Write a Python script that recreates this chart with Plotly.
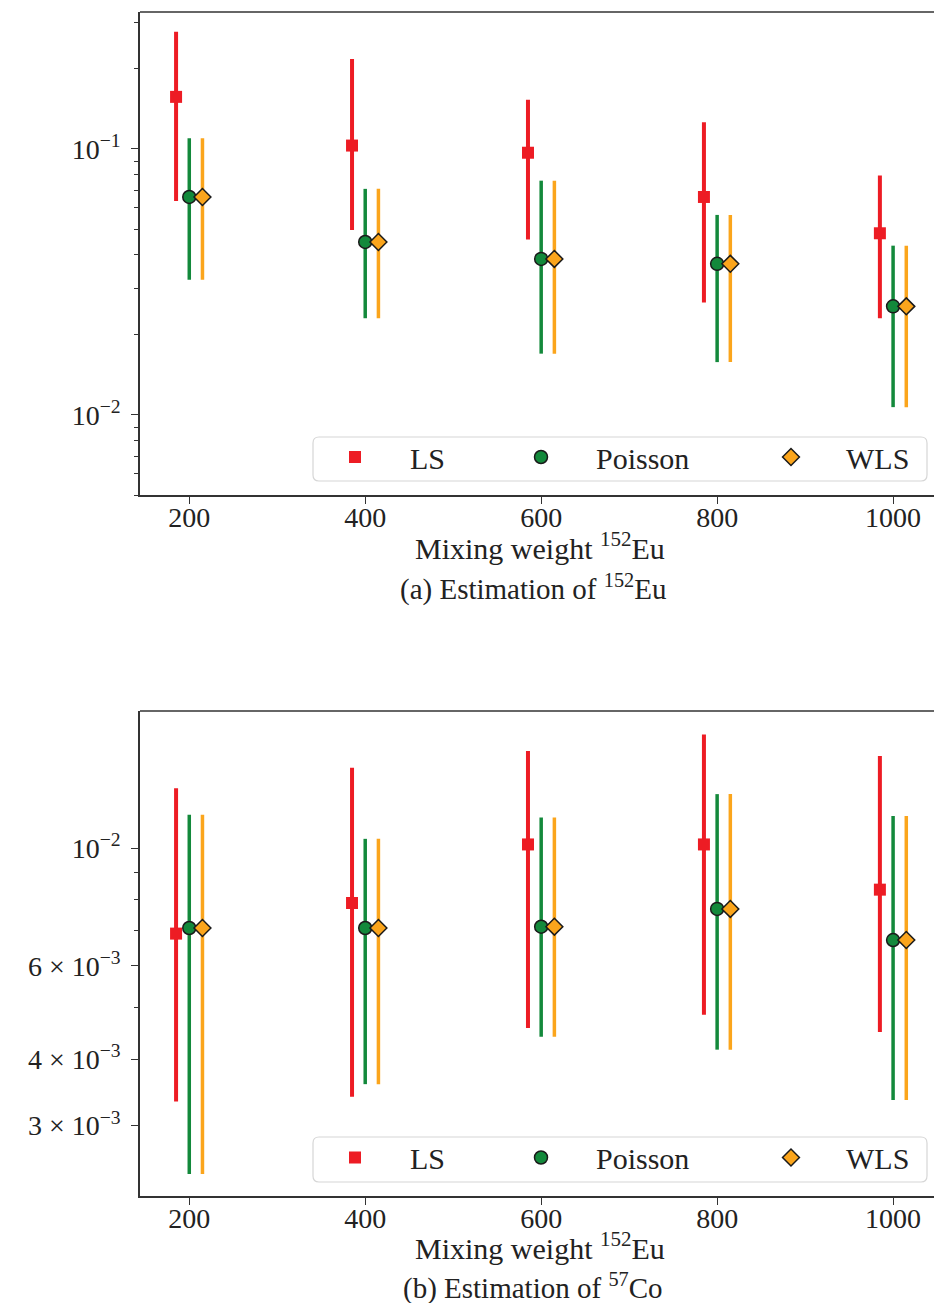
import plotly.graph_objects as go

# ---------------- data ----------------
weights = [200, 400, 600, 800, 1000]
x_ticks = [200, 400, 600, 800, 1000]

# (a) Estimation of 152Eu
eu_ls = [0.157, 0.103, 0.0968, 0.066, 0.0482]
eu_ls_hi = [0.276, 0.218, 0.153, 0.126, 0.0794]
eu_ls_lo = [0.0638, 0.0496, 0.0457, 0.02645, 0.0231]
eu_poi = [0.066, 0.0447, 0.0386, 0.0370, 0.0256]
eu_poi_hi = [0.1097, 0.0708, 0.0760, 0.0565, 0.0433]
eu_poi_lo = [0.0322, 0.0231, 0.0170, 0.0158, 0.0107]
eu_wls = [0.066, 0.0447, 0.0386, 0.0370, 0.0256]
eu_wls_hi = [0.1097, 0.0708, 0.0760, 0.0565, 0.0433]
eu_wls_lo = [0.0322, 0.0231, 0.0170, 0.0158, 0.0107]

# (b) Estimation of 57Co
co_ls = [0.0069, 0.00788, 0.01016, 0.01016, 0.00835]
co_ls_hi = [0.01296, 0.01418, 0.01524, 0.01637, 0.01492]
co_ls_lo = [0.00333, 0.0034, 0.00458, 0.00485, 0.0045]
co_poi = [0.00707, 0.00707, 0.00711, 0.00768, 0.00671]
co_poi_hi = [0.01156, 0.01041, 0.01142, 0.01264, 0.01149]
co_poi_lo = [0.00243, 0.00359, 0.00441, 0.00417, 0.00335]
co_wls = [0.00707, 0.00707, 0.00711, 0.00768, 0.00671]
co_wls_hi = [0.01156, 0.01041, 0.01142, 0.01264, 0.01149]
co_wls_lo = [0.00243, 0.00359, 0.00441, 0.00417, 0.00335]

top_ytickvals = [0.1, 0.01]
top_yticktext = ["10<sup>−1</sup>", "10<sup>−2</sup>"]
top_yminor = [0.3, 0.2, 0.09, 0.08, 0.07, 0.06, 0.05, 0.04, 0.03, 0.02,
              0.009, 0.008, 0.007, 0.006, 0.005]
bot_ytickvals = [0.01, 0.006, 0.004, 0.003]
bot_yticktext = ["10<sup>−2</sup>", "6 × 10<sup>−3</sup>",
                 "4 × 10<sup>−3</sup>", "3 × 10<sup>−3</sup>"]
bot_yminor = [0.009, 0.008, 0.007, 0.005]

methods = ["LS", "Poisson", "WLS"]
x_title = "Mixing weight <sup>152</sup>Eu"
captions = ["(a) Estimation of <sup>152</sup>Eu", "(b) Estimation of <sup>57</sup>Co"]

# ---------------- styles ----------------
W, H = 934, 1303
LEFT = 140
FONT = "Liberation Serif"
DODGE = {"LS": -15, "Poisson": 0, "WLS": 15}
COLORS = {"LS": "#ed1c24", "Poisson": "#13893b", "WLS": "#fba51c"}
SYMBOL = {"LS": "square", "Poisson": "circle", "WLS": "diamond"}
MSIZE = {"LS": 12, "Poisson": 13, "WLS": 13}
MLINE = {"LS": 0, "Poisson": 1.5, "WLS": 1.5}
ETHICK = {"LS": 4, "Poisson": 3.5, "WLS": 3.5}

fig = go.Figure()

panels = [
    ("x", "y", {"LS": (eu_ls, eu_ls_hi, eu_ls_lo),
                "Poisson": (eu_poi, eu_poi_hi, eu_poi_lo),
                "WLS": (eu_wls, eu_wls_hi, eu_wls_lo)},
     ["legend2", "legend3", "legend4"]),
    ("x2", "y2", {"LS": (co_ls, co_ls_hi, co_ls_lo),
                  "Poisson": (co_poi, co_poi_hi, co_poi_lo),
                  "WLS": (co_wls, co_wls_hi, co_wls_lo)},
     ["legend5", "legend6", "legend7"]),
]

for xa, ya, data, legs in panels:
    for m, lg in zip(methods, legs):
        c, hi, lo = data[m]
        fig.add_trace(go.Scatter(
            x=[w + DODGE[m] for w in weights], y=c,
            mode="markers", name=m, legend=lg,
            xaxis=xa, yaxis=ya,
            marker=dict(symbol=SYMBOL[m], size=MSIZE[m], color=COLORS[m],
                        line=dict(color="#1a1a1a", width=MLINE[m])),
            error_y=dict(type="data", symmetric=False,
                         array=[h - v for h, v in zip(hi, c)],
                         arrayminus=[v - l for v, l in zip(c, lo)],
                         color=COLORS[m], thickness=ETHICK[m], width=0),
        ))


def px2paper(px, py):
    return (px - LEFT) / (W - LEFT), 1 - py / H


# axes domains (pixels)
top_y0, top_y1 = 12, 495
bot_y0, bot_y1 = 711, 1196

axis_common = dict(showline=True, linecolor="#333", linewidth=1.5,
                   ticks="outside", ticklen=7, tickwidth=1.2, tickcolor="#333",
                   showgrid=False, zeroline=False,
                   tickfont=dict(family=FONT, size=28, color="#222"))

fig.update_layout(
    width=W, height=H,
    margin=dict(l=LEFT, r=0, t=0, b=0),
    paper_bgcolor="white", plot_bgcolor="white",
    font=dict(family=FONT, color="#222"),
    showlegend=True,
    xaxis=dict(domain=[0, 1], anchor="y", range=[144, 1046.5],
               tickvals=x_ticks, ticklabelstandoff=-10, **axis_common),
    yaxis=dict(domain=[1 - top_y1 / H, 1 - top_y0 / H], anchor="x",
               type="log", range=[-2.301, -0.485],
               tickvals=top_ytickvals, ticktext=top_yticktext,
               ticklabelstandoff=5,
               minor=dict(tickmode="array", tickvals=top_yminor,
                          ticks="outside", ticklen=4, tickcolor="#333", tickwidth=1),
               **axis_common),
    xaxis2=dict(domain=[0, 1], anchor="y2", range=[144, 1046.5],
                tickvals=x_ticks, ticklabelstandoff=-10, **axis_common),
    yaxis2=dict(domain=[1 - bot_y1 / H, 1 - bot_y0 / H], anchor="x2",
                type="log", range=[-2.6557, -1.7416],
                tickvals=bot_ytickvals, ticktext=bot_yticktext,
                ticklabelstandoff=5,
                minor=dict(tickmode="array", tickvals=bot_yminor,
                           ticks="outside", ticklen=4, tickcolor="#333", tickwidth=1),
                **axis_common),
)

# top frame lines (no right spine visible in the reference)
for xd, yd in [("x domain", "y domain"), ("x2 domain", "y2 domain")]:
    fig.add_shape(type="line", xref=xd, yref=yd, x0=0, x1=1.02, y0=1, y1=1,
                  line=dict(color="#333", width=1.5))


def rounded_box(x0, y0, x1, y1, r=6):
    def P(px, py):
        a, b = px2paper(px, py)
        return f"{a:.5f},{b:.5f}"
    return (f"M {P(x0 + r, y0)} L {P(x1 - r, y0)} Q {P(x1, y0)} {P(x1, y0 + r)} "
            f"L {P(x1, y1 - r)} Q {P(x1, y1)} {P(x1 - r, y1)} "
            f"L {P(x0 + r, y1)} Q {P(x0, y1)} {P(x0, y1 - r)} "
            f"L {P(x0, y0 + r)} Q {P(x0, y0)} {P(x0 + r, y0)} Z")


legend_boxes = [(313, 437, 927, 481), (313, 1137, 927, 1182)]
legend_groups = [["legend2", "legend3", "legend4"], ["legend5", "legend6", "legend7"]]
marker_px = [355, 541, 791]
ITEMW = 100
layout_legends = {}
for (bx0, by0, bx1, by1), legs in zip(legend_boxes, legend_groups):
    fig.add_shape(type="path", xref="paper", yref="paper",
                  path=rounded_box(bx0, by0, bx1, by1),
                  fillcolor="rgba(255,255,255,0.85)",
                  line=dict(color="#d6d6d6", width=1.2), layer="above")
    cy = (by0 + by1) / 2 - 2
    for lg, mx in zip(legs, marker_px):
        lx, ly = px2paper(mx - ITEMW / 2 - 5, cy)
        layout_legends[lg] = dict(x=lx, y=ly, xanchor="left", yanchor="middle",
                                  xref="paper", yref="paper", visible=True,
                                  bgcolor="rgba(0,0,0,0)", borderwidth=0,
                                  itemwidth=ITEMW,
                                  font=dict(family=FONT, size=30, color="#222"))
fig.update_layout(**layout_legends)

# axis titles and captions
for text, px, py, size in [(x_title, 540, 546, 30), (captions[0], 533, 587, 29),
                           (x_title, 540, 1246, 30), (captions[1], 533, 1286, 29)]:
    ax_, ay_ = px2paper(px, py)
    fig.add_annotation(text=text, x=ax_, y=ay_, xref="paper", yref="paper",
                       xanchor="center", yanchor="middle", showarrow=False,
                       font=dict(family=FONT, size=size, color="#222"))

fig.write_html("out.html")
